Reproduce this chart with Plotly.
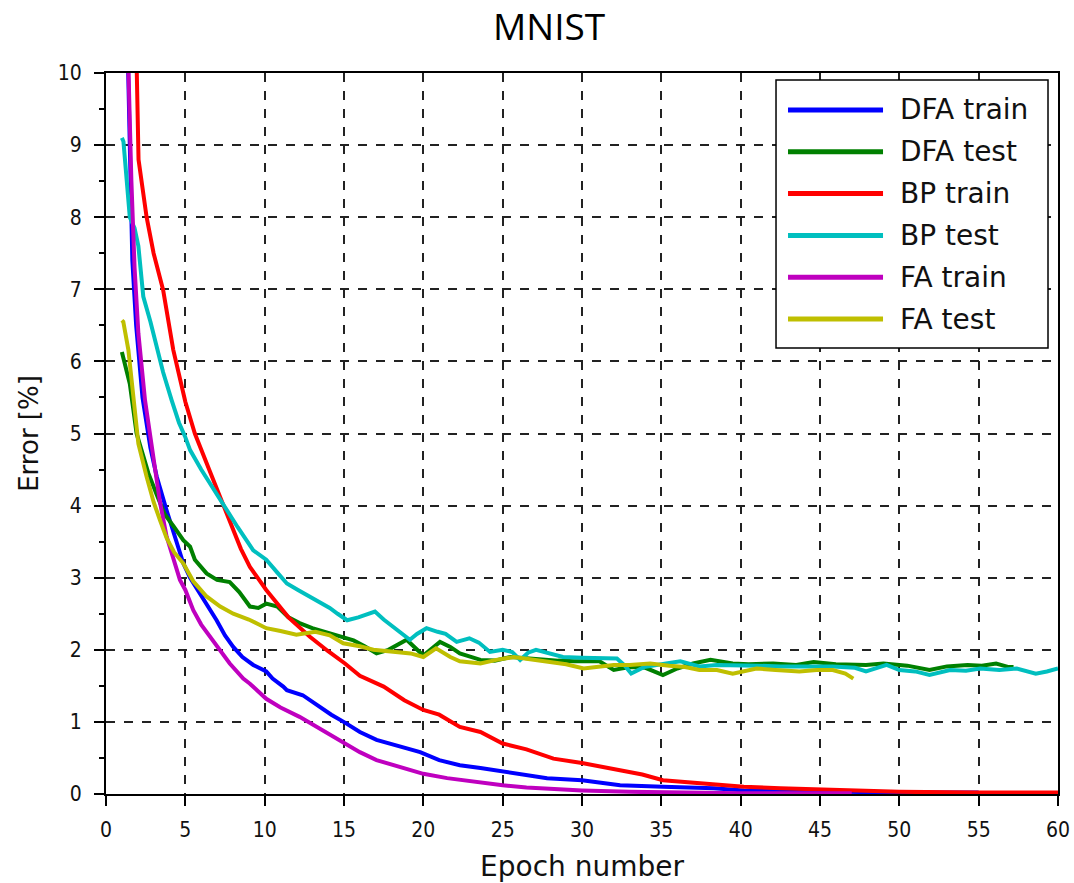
import plotly.graph_objects as go

# ---------------- data ----------------
series_names = ["DFA train", "DFA test", "BP train", "BP test", "FA train", "FA test"]
series_colors = ["#0000FF", "#008000", "#FF0000", "#00BFBF", "#BF00BF", "#BFBF00"]

dfa_train_x = [1.3, 1.45, 1.66, 1.9, 2.3, 2.8, 3.2, 3.8, 4.35, 4.87, 5.3, 5.92, 6.5, 6.97, 7.5, 8.02,
               8.6, 9.28, 10.1, 10.5, 11.17, 11.4, 12.4, 13.3, 14.2, 15.06, 16.0, 17.05, 18.5, 19.8,
               21.0, 22.3, 23.6, 25.0, 26.5, 27.8, 30.0, 32.4, 35.1, 38.3, 40.2, 45.0, 50.0, 55.0]
dfa_train_y = [11.0, 9.4, 7.4, 6.5, 5.5, 4.8, 4.4, 3.95, 3.55, 3.2, 3.0, 2.78, 2.6, 2.41, 2.2, 2.04,
               1.9, 1.79, 1.70, 1.6, 1.49, 1.44, 1.37, 1.23, 1.1, 0.99, 0.86, 0.75, 0.66, 0.58,
               0.47, 0.40, 0.36, 0.31, 0.26, 0.22, 0.19, 0.12, 0.10, 0.08, 0.05, 0.03, 0.02, 0.02]

dfa_test_x = [1.0, 1.5, 1.93, 2.3, 2.67, 3.2, 3.7, 4.3, 4.87, 5.3, 5.6, 6.34, 7.0, 7.8, 8.4, 9.07,
              9.6, 10.1, 10.8, 11.5, 12.2, 13.0, 14.1, 14.95, 15.6, 16.3, 17.05, 17.8, 18.95, 20.0,
              21.05, 21.7, 22.3, 23.6, 24.5, 25.5, 26.5, 27.5, 28.5, 29.5, 31.1, 32.0, 33.0, 34.0,
              35.1, 36.0, 37.0, 38.1, 39.5, 40.5, 42.05, 43.5, 44.6, 46.0, 47.9, 49.0, 50.5, 51.9,
              53.0, 54.3, 55.2, 56.1, 56.9, 57.2]
dfa_test_y = [6.13, 5.69, 5.0, 4.7, 4.45, 4.15, 3.88, 3.7, 3.52, 3.43, 3.25, 3.06, 2.97, 2.94, 2.8, 2.6,
              2.58, 2.64, 2.6, 2.45, 2.37, 2.3, 2.23, 2.18, 2.13, 2.05, 1.95, 2.0, 2.14, 1.92,
              2.11, 2.04, 1.95, 1.86, 1.85, 1.90, 1.88, 1.87, 1.85, 1.84, 1.84, 1.72, 1.76, 1.75,
              1.65, 1.74, 1.81, 1.86, 1.81, 1.80, 1.81, 1.79, 1.83, 1.80, 1.79, 1.81, 1.78, 1.72,
              1.77, 1.79, 1.78, 1.81, 1.76, 1.76]

bp_train_x = [1.85, 1.95, 2.05, 2.56, 3.0, 3.6, 4.24, 5.0, 5.6, 6.5, 7.4, 8.5, 9.07, 10.1, 11.5, 12.85,
              14.0, 15.06, 16.0, 17.5, 18.8, 20.0, 21.0, 22.3, 23.6, 25.0, 26.5, 28.2, 30.0, 31.2,
              32.4, 33.8, 35.1, 37.5, 40.2, 42.5, 45.2, 47.7, 50.0, 55.0, 60.0]
bp_train_y = [11.0, 9.6, 8.8, 8.0, 7.5, 6.99, 6.16, 5.44, 5.0, 4.5, 4.0, 3.4, 3.15, 2.83, 2.45, 2.18,
              1.98, 1.81, 1.64, 1.49, 1.3, 1.165, 1.1, 0.93, 0.86, 0.70, 0.62, 0.49, 0.43, 0.38,
              0.33, 0.27, 0.19, 0.15, 0.10, 0.08, 0.06, 0.04, 0.03, 0.02, 0.02]

bp_test_x = [1.0, 1.1, 1.5, 1.8, 2.04, 2.35, 2.8, 3.25, 3.6, 4.14, 4.6, 4.98, 5.3, 6.0, 6.7, 7.4,
             8.3, 9.28, 10.1, 10.8, 11.4, 12.1, 12.85, 13.5, 14.1, 14.6, 15.2, 15.9, 16.5, 16.95,
             17.5, 18.3, 19.15, 19.6, 20.2, 20.9, 21.4, 22.1, 22.9, 23.5, 24.2, 25.0, 25.6, 26.1,
             26.6, 27.1, 28.0, 28.8, 30.0, 31.1, 32.2, 32.7, 33.1, 33.9, 34.6, 35.3, 36.2, 37.4,
             38.5, 39.5, 41.0, 42.5, 43.7, 45.8, 47.2, 47.9, 49.2, 50.0, 51.0, 51.9, 53.2, 54.2,
             55.1, 56.3, 57.4, 58.0, 58.6, 59.3, 60.0]
bp_test_y = [9.1, 9.05, 8.0, 7.85, 7.6, 6.9, 6.55, 6.15, 5.85, 5.46, 5.15, 4.96, 4.77, 4.5, 4.25, 4.0,
             3.7, 3.38, 3.25, 3.07, 2.92, 2.83, 2.74, 2.65, 2.58, 2.50, 2.41, 2.45, 2.49, 2.53,
             2.42, 2.28, 2.14, 2.22, 2.30, 2.25, 2.22, 2.11, 2.16, 2.10, 1.97, 2.0, 1.97, 1.86,
             1.96, 2.0, 1.95, 1.90, 1.89, 1.88, 1.88, 1.78, 1.67, 1.76, 1.78, 1.81, 1.84, 1.77,
             1.79, 1.79, 1.78, 1.77, 1.77, 1.77, 1.75, 1.70, 1.79, 1.72, 1.70, 1.65, 1.72, 1.71,
             1.74, 1.72, 1.74, 1.71, 1.67, 1.70, 1.74]

fa_train_x = [1.3, 1.41, 1.6, 1.8, 1.95, 2.04, 2.46, 2.98, 3.4, 3.82, 4.3, 4.66, 5.0, 5.5, 6.0, 6.55,
              7.2, 7.8, 8.65, 9.07, 10.1, 11.0, 12.2, 13.5, 15.06, 16.0, 17.05, 18.5, 20.0, 21.5,
              22.8, 24.0, 25.0, 26.5, 27.8, 30.0, 33.0, 36.0, 40.0, 47.0]
fa_train_y = [11.0, 10.0, 8.5, 7.3, 6.6, 6.39, 5.46, 4.63, 4.05, 3.57, 3.2, 2.97, 2.83, 2.55, 2.35, 2.18,
              1.98, 1.81, 1.60, 1.53, 1.32, 1.2, 1.07, 0.9, 0.70, 0.58, 0.47, 0.37, 0.28, 0.22,
              0.18, 0.15, 0.12, 0.09, 0.07, 0.05, 0.03, 0.02, 0.01, 0.01]

fa_test_x = [1.0, 1.09, 1.41, 1.72, 2.04, 2.56, 3.0, 3.4, 3.82, 4.3, 4.87, 5.5, 6.34, 7.2, 8.02, 9.0,
             10.1, 11.0, 12.0, 13.2, 14.1, 14.95, 16.0, 16.85, 18.0, 19.2, 20.0, 20.8, 21.7, 22.3,
             23.6, 24.6, 25.7, 26.8, 27.8, 29.0, 30.1, 31.1, 32.0, 33.0, 34.3, 35.5, 36.5, 37.4,
             38.5, 39.5, 41.0, 42.2, 43.7, 44.8, 45.8, 46.6, 47.1]
fa_test_y = [6.57, 6.55, 6.16, 5.46, 4.86, 4.4, 4.05, 3.8, 3.55, 3.35, 3.2, 2.95, 2.74, 2.6, 2.50, 2.42,
             2.30, 2.26, 2.21, 2.25, 2.2, 2.09, 2.05, 2.0, 1.98, 1.95, 1.9, 2.02, 1.9, 1.84,
             1.81, 1.86, 1.90, 1.87, 1.84, 1.80, 1.74, 1.77, 1.79, 1.79, 1.81, 1.78, 1.76, 1.72,
             1.72, 1.67, 1.74, 1.72, 1.70, 1.72, 1.72, 1.67, 1.60]

series_x = [dfa_train_x, dfa_test_x, bp_train_x, bp_test_x, fa_train_x, fa_test_x]
series_y = [dfa_train_y, dfa_test_y, bp_train_y, bp_test_y, fa_train_y, fa_test_y]

x_ticks = [0, 5, 10, 15, 20, 25, 30, 35, 40, 45, 50, 55, 60]
y_ticks = [0, 1, 2, 3, 4, 5, 6, 7, 8, 9, 10]
chart_title = "MNIST"

# ---------------- figure ----------------
fig = go.Figure()
for name, color, xs, ys in zip(series_names, series_colors, series_x, series_y):
    fig.add_trace(go.Scatter(x=xs, y=ys, mode="lines", name=name,
                             line=dict(color=color, width=4), showlegend=False))

tick_font = dict(family="DejaVu Sans Condensed, Liberation Sans Narrow, DejaVu Sans, sans-serif",
                 size=21, color="#111")
axis_common = dict(showline=True, linecolor="black", linewidth=2, mirror=True,
                   showgrid=True, gridcolor="#222", griddash="dash", gridwidth=1.5,
                   ticks="outside", ticklen=10, tickwidth=1.5, tickcolor="black",
                   tickfont=tick_font, zeroline=False)

fig.update_xaxes(range=[0, 60], tickvals=x_ticks, ticklabelstandoff=6,
                 title=dict(text="Epoch number", font=dict(family="DejaVu Sans", size=28, color="#111"),
                            standoff=16),
                 **axis_common)
fig.update_yaxes(range=[0, 10], tickvals=y_ticks, ticklabelstandoff=8,
                 minor=dict(dtick=0.5, ticks="outside", ticklen=5, tickwidth=1.5, tickcolor="black",
                            showgrid=False),
                 title=dict(text="Error [%]", font=dict(family="DejaVu Sans", size=26, color="#111"),
                            standoff=12),
                 **axis_common)

# custom legend box (lines long like in the reference)
lx0, lx1, ly0, ly1 = 0.7038, 0.9895, 0.6186, 0.9903
fig.add_shape(type="rect", xref="paper", yref="paper", x0=lx0, x1=lx1, y0=ly0, y1=ly1,
              line=dict(color="black", width=1.5), fillcolor="white", layer="above")
row_top, row_step = 0.9487, 0.0580
for i, (name, color) in enumerate(zip(series_names, series_colors)):
    yy = row_top - i * row_step
    fig.add_shape(type="line", xref="paper", yref="paper", x0=0.7164, x1=0.8162, y0=yy, y1=yy,
                  line=dict(color=color, width=5), layer="above")
    fig.add_annotation(xref="paper", yref="paper", x=0.8319, y=yy, text=name, showarrow=False,
                       xanchor="left", yanchor="middle",
                       font=dict(family="DejaVu Sans", size=28, color="#111"))

# chart title as an annotation above the plot area
fig.add_annotation(xref="paper", yref="paper", x=0.465, y=1.0, yshift=48, text=chart_title,
                   showarrow=False, xanchor="center", yanchor="middle",
                   font=dict(family="Open Sans", size=37, color="black"))

fig.update_layout(
    width=1074, height=883,
    margin=dict(l=106, r=16, t=73, b=89, autoexpand=False),
    paper_bgcolor="white", plot_bgcolor="white",
    showlegend=False,
)

# remove the page's default 8px body margin so the figure fills the window exactly
fig.write_html("out.html", config={"displayModeBar": False},
               post_script="document.body.style.margin='0';document.body.style.overflow='hidden';")
